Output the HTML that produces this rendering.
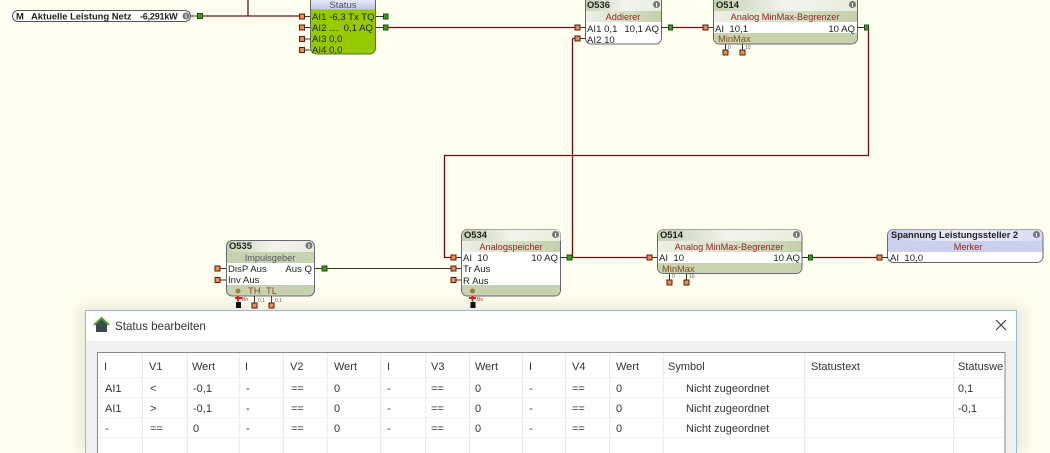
<!DOCTYPE html>
<html><head><meta charset="utf-8"><style>
html,body{margin:0;padding:0;background:#fffff0;width:1050px;height:453px;overflow:hidden}
svg{display:block}
text{font-family:"Liberation Sans",sans-serif}
.t{font-size:9.6px;fill:#222}
.b{font-size:9.4px;fill:#222;font-weight:bold}
.s{font-size:9.2px;fill:#8a2a20;text-anchor:middle}
.m{font-size:9.4px;fill:#8a4a20}
.d{font-size:11px;fill:#333}
.w{stroke:#6a1010;stroke-width:1.3;fill:none}
.k{stroke:#333;stroke-width:1;fill:none}
.o{fill:#ee8a52;stroke:#4a2018;stroke-width:1}
.g{fill:#3f9a18;stroke:#1f4a18;stroke-width:1}
</style></head><body>
<svg width="1050" height="453" viewBox="0 0 1050 453" xmlns="http://www.w3.org/2000/svg">
<defs>
<linearGradient id="h" x1="0" x2="1" y1="0" y2="0"><stop offset="0" stop-color="#c4d0b0"/><stop offset=".5" stop-color="#f2f4ec"/><stop offset="1" stop-color="#e8ecdc"/></linearGradient>
<linearGradient id="l" x1="0" x2="1" y1="0" y2="0"><stop offset="0" stop-color="#c8cbec"/><stop offset=".5" stop-color="#f0f0fa"/><stop offset="1" stop-color="#d8daf2"/></linearGradient>
<linearGradient id="sh" x1="0" x2="0" y1="0" y2="1"><stop offset="0" stop-color="#e8e8f8"/><stop offset="1" stop-color="#c0c4ea"/></linearGradient>
<linearGradient id="sub" x1="0" x2="1" y1="0" y2="0"><stop offset="0" stop-color="#eef0e6"/><stop offset="1" stop-color="#c4d0ac"/></linearGradient>
<clipPath id="c1"><rect x="226" y="240" width="89" height="56" rx="6"/></clipPath>
<clipPath id="page"><rect x="0" y="0" width="1050" height="453"/></clipPath>
<filter id="blur" x="-5%" y="-15%" width="110%" height="130%"><feGaussianBlur stdDeviation="7"/></filter>
</defs>
<rect width="1050" height="453" fill="#fffff0"/>

<!-- wires -->
<path class="w" d="M203 16H300M248 0V16M388 27.500H576M672 27.500H704M868.500 27.500V155.500H444.500V257.500H451M572.500 38.500V257.500M576 38.500H572.500M572 257.500H647M812 257.500H877"/>
<path class="k" d="M327 268.500H451"/>

<!-- Input pill -->
<rect x="12.500" y="10.500" width="178" height="11" rx="5.500" fill="#fff" stroke="#555"/>
<text x="16" y="19.500" class="b">M</text>
<text x="31" y="19.500" class="b">Aktuelle Leistung Netz</text>
<text x="140" y="19.500" class="b" style="font-size:9px;letter-spacing:-.2px">-6,291kW</text>
<circle cx="186" cy="16" r="3.500" fill="#777"/><path d="M186 14V18" stroke="#fff"/>
<path class="k" d="M191 16H198"/>
<rect x="197.500" y="13.500" width="5" height="5" class="g"/>

<!-- Status block -->
<path d="M310.500 0H376V10H310.500Z" fill="url(#sh)"/>
<path d="M310.500 9.500H375.500V48a6 6 0 0 1-6 6H316.500a6 6 0 0 1-6-6Z" fill="#95ca00"/>
<path d="M310.500 0V48a6 6 0 0 0 6 6H369.500a6 6 0 0 0 6-6V0" fill="none" stroke="#5a6a50"/>
<text x="343" y="8" text-anchor="middle" class="t" style="fill:#555">Status</text>
<text x="312" y="20" class="t">AI1 -6,3 Tx TQ</text>
<text x="312" y="31" class="t">AI2 …</text><text x="373" y="31" class="t" text-anchor="end">0,1 AQ</text>
<text x="312" y="42" class="t">AI3 0,0</text>
<text x="312" y="53" class="t">AI4 0,0</text>
<path class="k" d="M304 16.500H310M304 27.500H310M304 39H310M304 50H310M376 16.500H383M376 27.500H383"/>
<rect x="299.500" y="14" width="5" height="5" class="o"/><rect x="299.500" y="25" width="5" height="5" class="o"/><rect x="299.500" y="36.500" width="5" height="5" class="o"/><rect x="299.500" y="47.500" width="5" height="5" class="o"/>
<rect x="383.500" y="14" width="4.500" height="5" class="g"/><rect x="383.500" y="25" width="4.500" height="5" class="g"/>

<!-- O536 -->
<path d="M585.500 0H661.500V38a6 6 0 0 1-6 6H591.500a6 6 0 0 1-6-6Z" fill="#fff" stroke="#667"/>
<rect x="586" y="0" width="75" height="11" fill="url(#h)"/>
<rect x="586" y="11" width="75" height="11" fill="url(#sub)"/>
<text x="587" y="8" class="b">O536</text><circle cx="656.500" cy="4.500" r="3.500" fill="#777"/><path d="M656.500 3V7" stroke="#fff"/>
<text x="623" y="20" class="s">Addierer</text>
<text x="587" y="32" class="t">AI1 0,1</text><text x="659" y="32" class="t" text-anchor="end">10,1 AQ</text>
<text x="587" y="43" class="t">AI2 10</text>
<path class="k" d="M580 27.500H586M580 38.500H586M661 27.500H668"/>
<rect x="575" y="25" width="5" height="5" class="o"/><rect x="575" y="36" width="5" height="5" class="o"/>
<rect x="668.500" y="25" width="4" height="5" class="g"/>

<!-- O514 top -->
<path d="M713.500 0H857.500V38a6 6 0 0 1-6 6H719.500a6 6 0 0 1-6-6Z" fill="#fff" stroke="#667"/>
<rect x="714" y="0" width="143" height="11" fill="url(#h)"/>
<rect x="714" y="11" width="143" height="11" fill="url(#sub)"/>
<path d="M714 33H857V38a5.500 5.500 0 0 1-5.500 5.500H719.500a5.500 5.500 0 0 1-5.500-5.500Z" fill="#c6d3ae"/>
<text x="716" y="8" class="b">O514</text><circle cx="852.500" cy="4.500" r="3.500" fill="#777"/><path d="M852.500 3V7" stroke="#fff"/>
<text x="785" y="20" class="s">Analog MinMax-Begrenzer</text>
<text x="715" y="32" class="t">AI&#160;&#160;10,1</text><text x="855" y="32" class="t" text-anchor="end">10 AQ</text>
<text x="718" y="42" class="m">Min</text><text x="733" y="42" class="m">Max</text>
<path class="k" d="M708 27.500H713M857 27.500H864M725.500 44V50M742.500 44V50"/>
<rect x="703" y="25" width="5" height="5" class="o"/><rect x="864.500" y="25" width="4" height="5" class="g"/>
<rect x="723" y="50" width="5" height="5" class="o"/><rect x="740" y="50" width="5" height="5" class="o"/>
<text x="728" y="49" style="font-size:5px;fill:#555">0</text><text x="745" y="49" style="font-size:5px;fill:#555">10</text>

<!-- O535 -->
<rect x="226.500" y="240.500" width="88" height="55.500" rx="6" fill="#fff" stroke="#667"/>
<g clip-path="url(#c1)"><rect x="226" y="240" width="89" height="12" fill="url(#h)"/>
<rect x="226" y="252" width="89" height="11" fill="#c6d3ae"/>
<rect x="226" y="285" width="89" height="11" fill="#c6d3ae"/></g>
<rect x="226.500" y="240.500" width="88" height="55.500" rx="6" fill="none" stroke="#667"/>
<text x="229" y="249" class="b">O535</text><circle cx="309" cy="245.500" r="3.500" fill="#777"/><path d="M309 244V248" stroke="#fff"/>
<text x="270" y="261" class="s" style="fill:#556">Impulsgeber</text>
<text x="228" y="272" class="t">DisP Aus</text><text x="312" y="272" class="t" text-anchor="end">Aus Q</text>
<text x="228" y="283" class="t">Inv Aus</text>
<circle cx="238" cy="291" r="2.500" fill="#a08030"/>
<text x="248" y="294" class="m">TH</text><text x="266" y="294" class="m">TL</text>
<path class="k" d="M220 268.500H226M220 280H226M315 268.500H322M238 296V303M254.500 296V303M271.500 296V303"/>
<rect x="215" y="266" width="5" height="5" class="o"/><rect x="215" y="277.500" width="5" height="5" class="o"/>
<rect x="322" y="266" width="5" height="5" class="g"/>
<path d="M235 298H242M238 296V301" stroke="#e01010" stroke-width="2"/>
<text x="242" y="301" style="font-size:5px;fill:#c01010">Bn</text>
<text x="258" y="302" style="font-size:5px;fill:#555">0,1</text><text x="275" y="302" style="font-size:5px;fill:#555">0,1</text>

<!-- O534 -->
<rect x="461.500" y="229.500" width="99" height="66.500" rx="6" fill="#fff" stroke="#667"/>
<path d="M462 241V235a5.500 5.500 0 0 1 5.500-5.500H555a5.500 5.500 0 0 1 5.500 5.500V241Z" fill="url(#h)"/>
<rect x="462" y="241" width="98" height="11" fill="url(#sub)"/>
<path d="M462 285H560V290a5.500 5.500 0 0 1-5.500 5.500H467.500a5.500 5.500 0 0 1-5.500-5.500Z" fill="#c6d3ae"/>
<text x="464" y="238" class="b">O534</text><circle cx="555.500" cy="234.500" r="3.500" fill="#777"/><path d="M555.500 233V237" stroke="#fff"/>
<text x="511" y="250" class="s">Analogspeicher</text>
<text x="463" y="261" class="t">AI&#160;&#160;10</text><text x="558" y="261" class="t" text-anchor="end">10 AQ</text>
<text x="463" y="272" class="t">Tr Aus</text><text x="463" y="284" class="t">R Aus</text>
<circle cx="472.500" cy="291" r="2.500" fill="#a08030"/>
<path class="k" d="M456 257.500H461M456 268.500H461M456 280H461M560 257.500H567M473 296V303"/>
<rect x="451" y="255" width="5" height="5" class="o"/><rect x="451" y="266" width="5" height="5" class="o"/><rect x="451" y="277.500" width="5" height="5" class="o"/>
<rect x="567" y="255" width="5" height="5" class="g"/>
<path d="M469 298H476M472.500 296V301" stroke="#e01010" stroke-width="2"/>
<text x="477" y="301" style="font-size:5px;fill:#c01010">Bn</text>

<!-- O514 lower -->
<rect x="657.500" y="229.500" width="144.500" height="44" rx="6" fill="#fff" stroke="#667"/>
<path d="M658 241V235a5.500 5.500 0 0 1 5.500-5.500H796a5.500 5.500 0 0 1 5.500 5.500V241Z" fill="url(#h)"/>
<rect x="658" y="241" width="143.500" height="11" fill="url(#sub)"/>
<path d="M658 263H801.500V268a5.500 5.500 0 0 1-5.500 5H663.500a5.500 5.500 0 0 1-5.500-5Z" fill="#c6d3ae"/>
<text x="660" y="238" class="b">O514</text><circle cx="796.500" cy="234.500" r="3.500" fill="#777"/><path d="M796.500 233V237" stroke="#fff"/>
<text x="729" y="250" class="s">Analog MinMax-Begrenzer</text>
<text x="659" y="261" class="t">AI&#160;&#160;10</text><text x="800" y="261" class="t" text-anchor="end">10 AQ</text>
<text x="662" y="272" class="m">Min</text><text x="677" y="272" class="m">Max</text>
<path class="k" d="M652 257.500H657M802 257.500H808M669.500 274V280M686.500 274V280"/>
<rect x="647" y="255" width="5" height="5" class="o"/><rect x="808.500" y="255" width="4" height="5" class="g"/>
<rect x="667" y="280" width="5" height="5" class="o"/><rect x="684" y="280" width="5" height="5" class="o"/>
<text x="672" y="278" style="font-size:5px;fill:#555">0</text><text x="689" y="278" style="font-size:5px;fill:#555">10</text>

<!-- Merker -->
<rect x="887.500" y="229.500" width="155.500" height="33" rx="6" fill="#fff" stroke="#667"/>
<path d="M888 241V235a5.500 5.500 0 0 1 5.500-5.500H1037a5.500 5.500 0 0 1 5.500 5.500V241Z" fill="url(#l)"/>
<rect x="888" y="241" width="154.500" height="11" fill="#ccd0ee"/>
<text x="891" y="238" class="b" style="font-size:9.3px">Spannung Leistungssteller 2</text><circle cx="1036.500" cy="234.500" r="3.500" fill="#777"/><path d="M1036.500 233V237" stroke="#fff"/>
<text x="968" y="250" class="s">Merker</text>
<text x="890" y="261" class="t">AI&#160;&#160;10,0</text>
<path class="k" d="M882 257.500H888"/>
<rect x="877" y="255" width="5" height="5" class="o"/>

<!-- Dialog shadow -->
<g clip-path="url(#page)"><rect x="80" y="306" width="944" height="147" fill="#d8d4bc" opacity=".55" filter="url(#blur)"/></g>
<!-- pins above shadow -->
<rect x="236" y="302" width="5" height="6" fill="#111"/>
<rect x="252" y="303" width="5" height="5" class="o"/><rect x="269" y="303" width="5" height="5" class="o"/>
<rect x="470.500" y="302" width="5" height="6" fill="#111"/>

<!-- Dialog -->
<rect x="85" y="310" width="932" height="143" fill="#f0f0f0"/>
<path d="M85.500 453V310.500H1016.500V453" fill="none" stroke="#8cc0de"/>
<rect x="86" y="311" width="930" height="30" fill="#fff"/>
<path d="M94 325L101.500 318L109 325H107V332H96V325Z" fill="#3a4a50"/>
<path d="M94 325L101.500 318L109 325" fill="none" stroke="#5aa030" stroke-width="2"/>
<text x="115" y="330" style="font-size:11.6px;fill:#333">Status bearbeiten</text>
<path d="M996 320L1006 330M1006 320L996 330" stroke="#333" stroke-width="1" fill="none"/>

<!-- Table -->
<rect x="98" y="353" width="907" height="100" fill="#fff"/>
<path d="M97.500 453V352.500H1005V453" fill="none" stroke="#888"/>
<path d="M142.500 353V453M187.500 353V453M239.500 353V453M283.500 353V453M327.500 353V453M380.500 353V453M425.500 353V453M469.500 353V453M522.500 353V453M565.500 353V453M609.500 353V453M663.500 353V453M804.500 353V453M953.500 353V453" stroke="#e8ecf2" fill="none"/>
<path d="M98 377.500H1004M98 397.500H1004M98 417.500H1004M98 437.500H1004" stroke="#eef1f5" fill="none"/>

<text x="104" y="370" class="d">I</text><text x="149" y="370" class="d">V1</text><text x="192" y="370" class="d">Wert</text><text x="245" y="370" class="d">I</text><text x="290" y="370" class="d">V2</text><text x="334" y="370" class="d">Wert</text><text x="387" y="370" class="d">I</text><text x="431" y="370" class="d">V3</text><text x="475" y="370" class="d">Wert</text><text x="529" y="370" class="d">I</text><text x="572" y="370" class="d">V4</text><text x="616" y="370" class="d">Wert</text><text x="668" y="370" class="d">Symbol</text><text x="811" y="370" class="d">Statustext</text><text x="958" y="370" class="d">Statuswe</text>

<text x="105" y="392" class="d">AI1</text><text x="150" y="392" class="d">&lt;</text><text x="193" y="392" class="d">-0,1</text><text x="246" y="392" class="d">-</text><text x="291" y="392" class="d">==</text><text x="334" y="392" class="d">0</text><text x="387" y="392" class="d">-</text><text x="431" y="392" class="d">==</text><text x="475" y="392" class="d">0</text><text x="529" y="392" class="d">-</text><text x="572" y="392" class="d">==</text><text x="616" y="392" class="d">0</text><text x="686" y="392" class="d">Nicht zugeordnet</text><text x="958" y="392" class="d">0,1</text>

<text x="105" y="412" class="d">AI1</text><text x="150" y="412" class="d">&gt;</text><text x="193" y="412" class="d">-0,1</text><text x="246" y="412" class="d">-</text><text x="291" y="412" class="d">==</text><text x="334" y="412" class="d">0</text><text x="387" y="412" class="d">-</text><text x="431" y="412" class="d">==</text><text x="475" y="412" class="d">0</text><text x="529" y="412" class="d">-</text><text x="572" y="412" class="d">==</text><text x="616" y="412" class="d">0</text><text x="686" y="412" class="d">Nicht zugeordnet</text><text x="958" y="412" class="d">-0,1</text>

<text x="105" y="432" class="d">-</text><text x="150" y="432" class="d">==</text><text x="193" y="432" class="d">0</text><text x="246" y="432" class="d">-</text><text x="291" y="432" class="d">==</text><text x="334" y="432" class="d">0</text><text x="387" y="432" class="d">-</text><text x="431" y="432" class="d">==</text><text x="475" y="432" class="d">0</text><text x="529" y="432" class="d">-</text><text x="572" y="432" class="d">==</text><text x="616" y="432" class="d">0</text><text x="686" y="432" class="d">Nicht zugeordnet</text>
</svg>
</body></html>
